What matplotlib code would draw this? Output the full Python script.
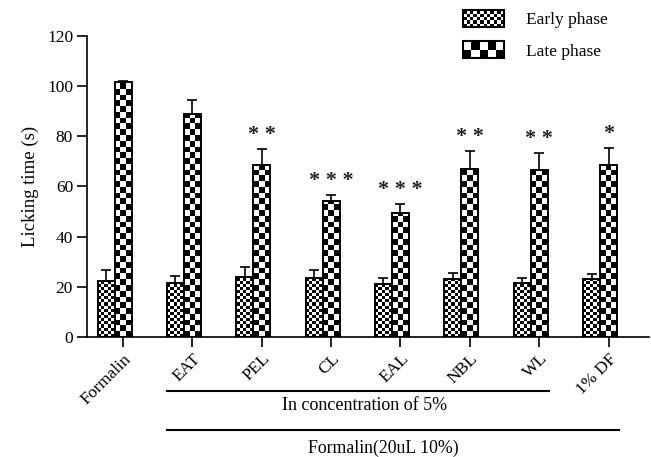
import matplotlib.pyplot as plt
import matplotlib.transforms as mtransforms
from matplotlib.patches import Rectangle
from matplotlib.collections import PatchCollection
from matplotlib.legend_handler import HandlerBase
import numpy as np

plt.rcParams['font.family'] = ['Liberation Serif', 'DejaVu Serif']

# data
groups = ['Formalin', 'EAT', 'PEL', 'CL', 'EAL', 'NBL', 'WL', '1% DF']
early = [22.2, 21.5, 23.8, 23.6, 21.0, 23.0, 21.4, 23.0]
early_err = [4.4, 2.8, 4.2, 3.2, 2.6, 2.6, 2.0, 2.2]
late = [101.5, 89.0, 68.5, 54.2, 49.5, 66.8, 66.5, 68.7]
late_err = [0.4, 5.4, 6.6, 2.5, 3.6, 7.4, 6.8, 6.8]
stars = ['', '', '* *', '* * *', '* * *', '* *', '* *', '*']


def checker_rects(x0, y0, w, h, ncol, cell_h):
    # black squares of a checkerboard filling the box (x0, y0, w, h)
    cw = w / ncol
    rects = []
    nrow = int(np.ceil(h / cell_h))
    for j in range(nrow):
        ch = min(cell_h, h - j * cell_h)
        for i in range(ncol):
            if (i + j) % 2 == 0:
                rects.append(Rectangle((x0 + i * cw, y0 + j * cell_h), cw, ch))
    return rects


class CheckerHandler(HandlerBase):
    def __init__(self, ncol, nrow):
        super().__init__()
        self.ncol = ncol
        self.nrow = nrow

    def create_artists(self, legend, orig_handle, xdescent, ydescent,
                       width, height, fontsize, trans):
        rects = checker_rects(-xdescent, -ydescent, width, height,
                              self.ncol, height / self.nrow)
        pc = PatchCollection(rects, facecolor='black', edgecolor='none',
                             transform=trans)
        border = Rectangle((-xdescent, -ydescent), width, height,
                           facecolor='none', edgecolor='black', lw=1.5,
                           transform=trans)
        return [pc, border]


fig = plt.figure(figsize=(6.51, 4.57), dpi=100)
ax = fig.add_axes([0.1336, 0.2626, 0.864, 0.659])

x = np.arange(len(groups))
w = 0.245
xe = x - w
xl = x

ax.bar(xe, early, w, facecolor='white', edgecolor='black', lw=1.2, zorder=1)
ax.bar(xl, late, w, facecolor='white', edgecolor='black', lw=1.2, zorder=1)

for xi, h in zip(xe, early):
    pc = PatchCollection(checker_rects(xi - w / 2, 0, w, h, 5, 1.25),
                         facecolor='black', edgecolor='none', zorder=2)
    ax.add_collection(pc)
for xi, h in zip(xl, late):
    pc = PatchCollection(checker_rects(xi - w / 2, 0, w, h, 3, 2.3),
                         facecolor='black', edgecolor='none', zorder=2)
    ax.add_collection(pc)

# outlines on top
ax.bar(xe, early, w, facecolor='none', edgecolor='black', lw=1.2, zorder=3)
ax.bar(xl, late, w, facecolor='none', edgecolor='black', lw=1.2, zorder=3)

ax.errorbar(xe, early, yerr=[np.zeros(len(early)), early_err], fmt='none',
            ecolor='black', elinewidth=1.2, capsize=3.8, capthick=1.2, zorder=0.5)
ax.errorbar(xl, late, yerr=[np.zeros(len(late)), late_err], fmt='none',
            ecolor='black', elinewidth=1.2, capsize=3.8, capthick=1.2, zorder=0.5)

for xi, h, e, s in zip(xl, late, late_err, stars):
    if s:
        ax.text(xi, h + e + 1.5, s, ha='center', va='bottom', fontsize=16,
                fontweight='bold', color='#222222')

ax.set_xlim(-0.52, 7.59)
ax.set_ylim(0, 120)
ax.set_yticks(np.arange(0, 121, 20))
ax.set_xticks(x)
ax.set_xticklabels(groups, rotation=45, ha='right', rotation_mode='anchor',
                   fontsize=12.5)
ax.tick_params(axis='y', labelsize=12.5, width=1.2, length=7.5, pad=2.5)
ax.tick_params(axis='x', width=1.2, length=7.5, pad=2.5)
ax.spines['top'].set_visible(False)
ax.spines['right'].set_visible(False)
ax.spines['left'].set_linewidth(1.2)
ax.spines['bottom'].set_linewidth(1.2)
ax.set_ylabel('Licking time (s)', fontsize=13.5, labelpad=6)

# group brackets below the axis
trans = mtransforms.blended_transform_factory(ax.transData, ax.transAxes)
ax.plot([0.63, 6.14], [-0.179, -0.179], color='black', lw=1.5,
        transform=trans, clip_on=False)
ax.text(3.48, -0.229, 'In concentration of 5%', ha='center', va='center',
        fontsize=13, transform=trans)
ax.plot([0.63, 7.15], [-0.309, -0.309], color='black', lw=1.5,
        transform=trans, clip_on=False)
ax.text(3.76, -0.369, 'Formalin(20uL 10%)', ha='center', va='center',
        fontsize=12.8, transform=trans)

h1 = Rectangle((0, 0), 1, 1)
h2 = Rectangle((0, 0), 1, 1)
ax.legend([h1, h2], ['Early phase', 'Late phase'],
          handler_map={h1: CheckerHandler(12, 5), h2: CheckerHandler(5, 2)},
          loc='upper left', bbox_to_anchor=(0.641, 1.137), frameon=False,
          fontsize=12.5, handlelength=2.36, handleheight=1.1,
          handletextpad=1.26, labelspacing=0.75, borderpad=0.4)

fig.savefig('out.png', dpi=100)
